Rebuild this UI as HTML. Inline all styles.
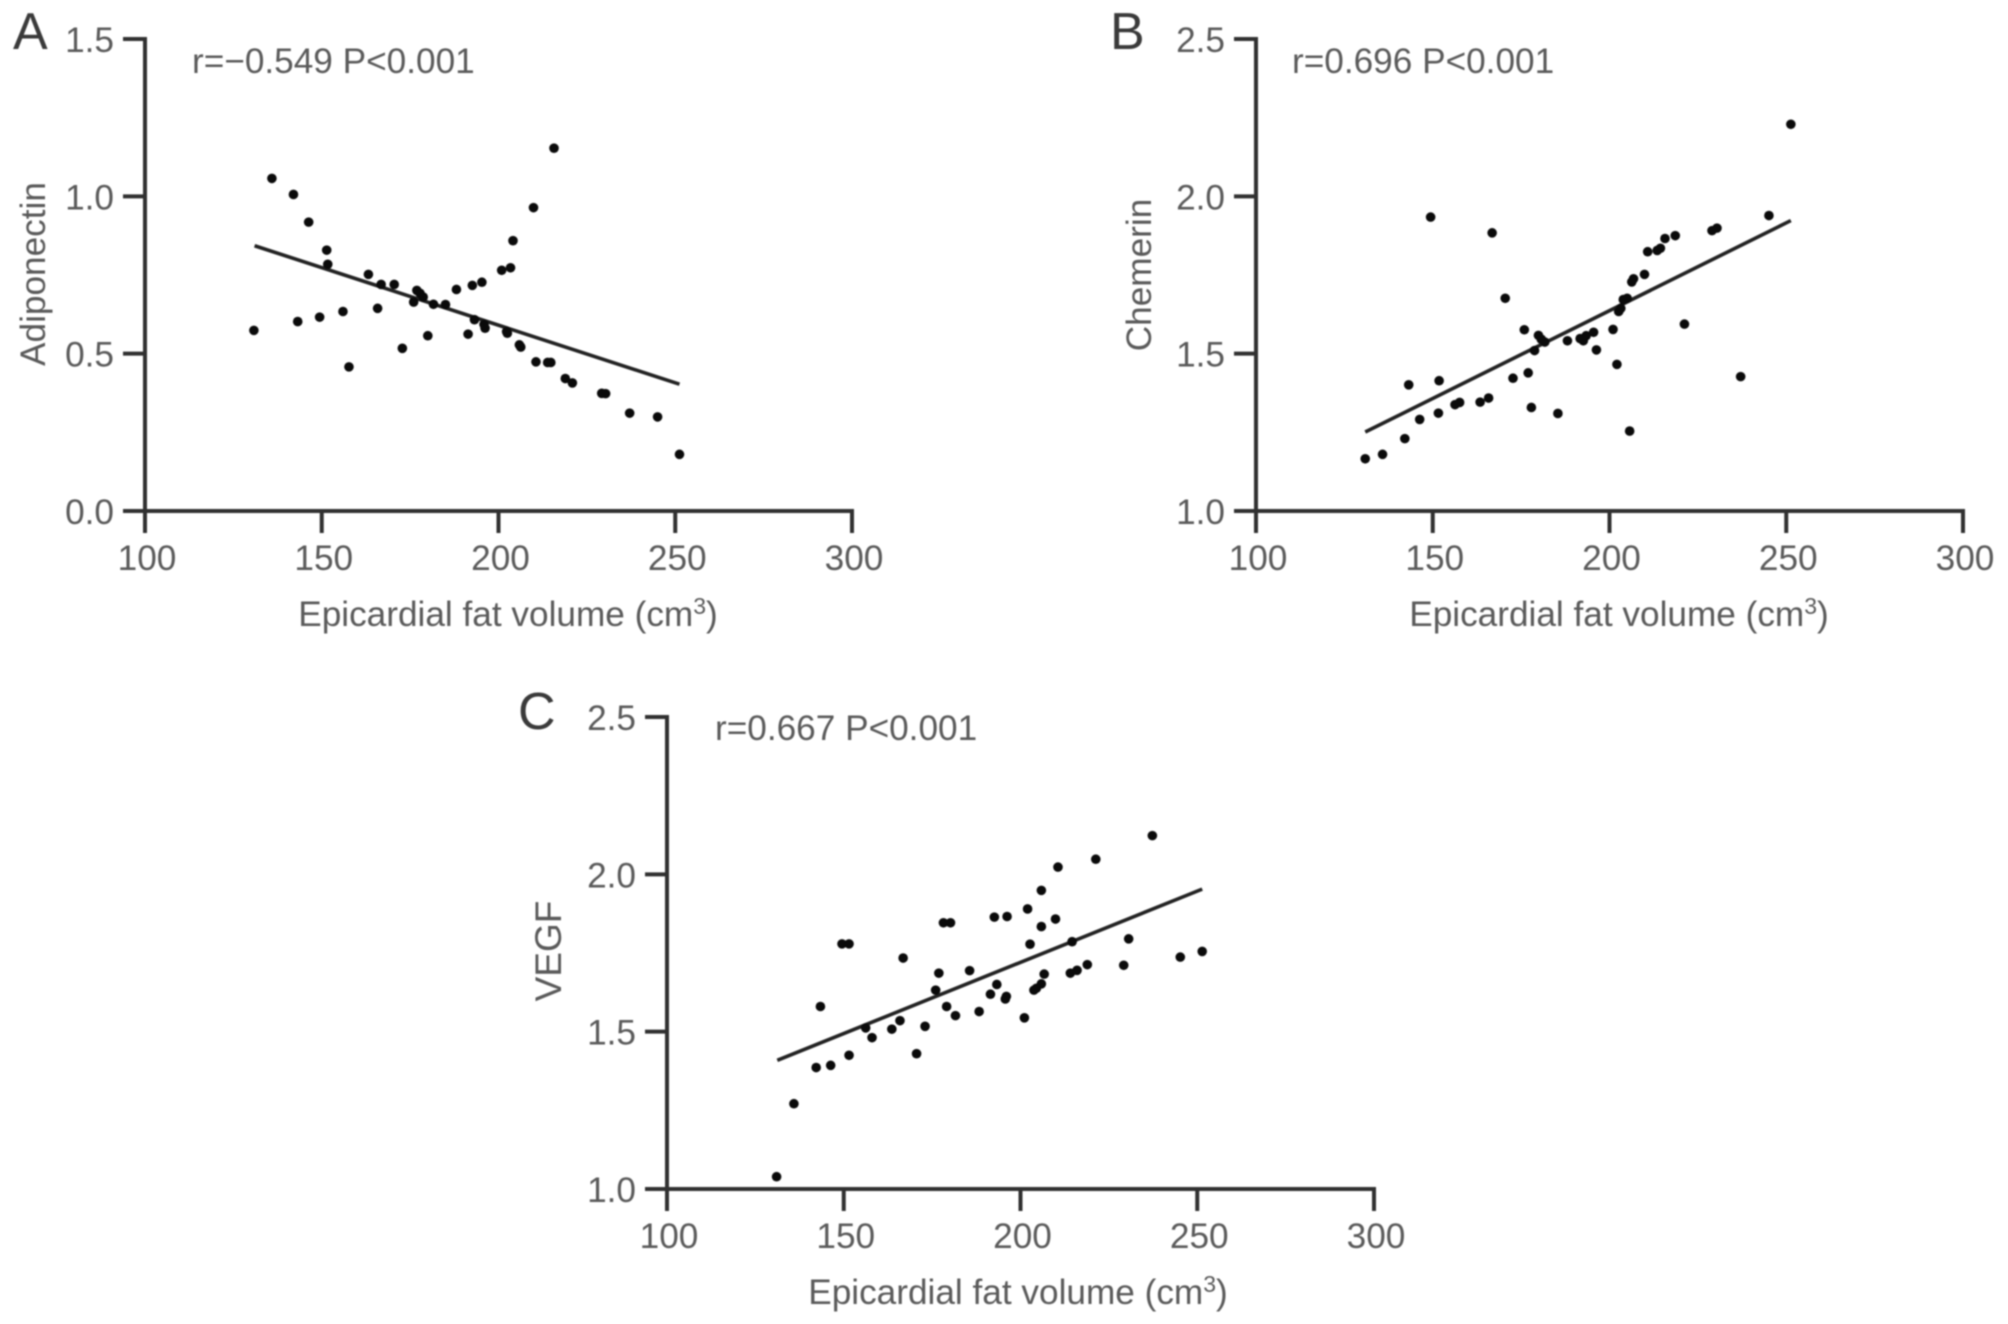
<!DOCTYPE html>
<html lang="en">
<head>
<meta charset="utf-8">
<title>Epicardial fat volume correlations</title>
<style>
html,body{margin:0;padding:0;background:#fff;}
#figure{display:block;width:2008px;height:1324px;filter:blur(0.8px);}
text{font-family:"Liberation Sans",sans-serif;fill:#5a5a5a;font-size:35.2px;}
.panel-letter{font-size:52px;fill:#3a3a3a;}
.axis-line{stroke:#303030;stroke-width:4;fill:none;stroke-linecap:square;}
.fit{stroke:#222;stroke-width:3.6;fill:none;}
.dot{fill:#0a0a0a;}
</style>
</head>
<body>
<svg id="figure" xmlns="http://www.w3.org/2000/svg" width="2008" height="1324" viewBox="0 0 2008 1324">
  <rect width="2008" height="1324" fill="#fff"/>
  <g id="panel-a">
    <text class="panel-letter" x="13" y="49">A</text>
    <text x="192" y="73">r=−0.549 P&lt;0.001</text>
    <text x="508" y="626" text-anchor="middle">Epicardial fat volume (cm<tspan font-size="23" dy="-12">3</tspan><tspan dy="12">)</tspan></text>
    <text transform="translate(45,274) rotate(-90)" text-anchor="middle">Adiponectin</text>
  </g>
  <g id="panel-b">
    <text class="panel-letter" x="1110" y="49">B</text>
    <text x="1292" y="73">r=0.696 P&lt;0.001</text>
    <text x="1619" y="626" text-anchor="middle">Epicardial fat volume (cm<tspan font-size="23" dy="-12">3</tspan><tspan dy="12">)</tspan></text>
    <text transform="translate(1151,275) rotate(-90)" text-anchor="middle">Chemerin</text>
  </g>
  <g id="panel-c">
    <text class="panel-letter" x="518" y="729">C</text>
    <text x="715" y="740">r=0.667 P&lt;0.001</text>
    <text x="1018" y="1304" text-anchor="middle">Epicardial fat volume (cm<tspan font-size="23" dy="-12">3</tspan><tspan dy="12">)</tspan></text>
    <text transform="translate(561,951) rotate(-90)" text-anchor="middle" style="font-size:37px">VEGF</text>
  </g>
</svg>
<script>
var xTicks = [100, 150, 200, 250, 300];
var yTicksA = [0.0, 0.5, 1.0, 1.5];
var yTicksB = [1.0, 1.5, 2.0, 2.5];
var yTicksC = [1.0, 1.5, 2.0, 2.5];

var xA = [130.8,135.9,142.0,143.2,146.3,149.4,151.4,151.7,156.0,157.7,163.2,165.8,166.8,170.5,172.8,176.0,176.9,177.8,178.7,180.0,181.6,185.0,188.1,191.4,192.6,193.2,195.3,195.9,196.2,200.9,202.3,202.5,203.4,204.1,205.9,206.3,209.9,210.6,213.9,214.8,215.7,218.9,220.9,229.2,230.3,237.1,245.0,251.2];
var yA = [0.574,1.057,1.006,0.602,0.918,0.616,0.829,0.784,0.634,0.458,0.752,0.644,0.720,0.720,0.517,0.664,0.701,0.692,0.680,0.557,0.657,0.656,0.704,0.562,0.717,0.608,0.727,0.593,0.581,0.765,0.570,0.565,0.773,0.859,0.528,0.521,0.964,0.474,0.472,0.472,1.153,0.421,0.407,0.374,0.373,0.311,0.299,0.180];
var fitXA = [131.0,251.2];
var fitYA = [0.843,0.403];

var xB = [130.9,135.8,142.1,143.2,146.3,149.4,151.6,151.8,156.3,157.6,163.4,165.8,166.8,170.5,172.7,175.9,177.0,177.9,178.8,179.9,180.7,181.7,185.4,188.1,191.7,192.6,193.4,195.5,196.3,201.0,202.1,202.6,203.2,203.9,205.0,205.7,206.3,206.8,209.9,210.8,213.5,214.4,215.7,218.6,221.2,229.0,230.4,237.1,245.1,251.3];
var yB = [1.166,1.180,1.230,1.401,1.291,1.934,1.311,1.414,1.338,1.345,1.346,1.359,1.884,1.676,1.422,1.576,1.439,1.329,1.510,1.558,1.546,1.537,1.310,1.541,1.548,1.541,1.557,1.568,1.512,1.577,1.466,1.634,1.644,1.672,1.676,1.254,1.728,1.738,1.752,1.824,1.828,1.835,1.866,1.875,1.594,1.891,1.899,1.427,1.939,2.229];
var fitXB = [130.9,251.3];
var fitYB = [1.251,1.923];

var xC = [131.0,135.9,142.2,143.4,146.3,149.5,151.5,151.5,156.2,158.0,163.6,165.9,166.8,170.6,173.0,176.0,176.9,178.2,179.1,180.2,181.6,185.6,188.3,191.5,192.6,193.3,195.7,196.0,196.2,201.1,202.0,202.7,203.8,204.5,205.9,205.9,205.9,206.7,209.9,210.6,214.1,214.6,216.0,218.9,221.3,229.2,230.6,237.3,245.2,251.4];
var yC = [1.039,1.271,1.386,1.580,1.393,1.779,1.779,1.425,1.512,1.481,1.508,1.535,1.734,1.430,1.517,1.632,1.686,1.846,1.580,1.846,1.551,1.694,1.564,1.619,1.864,1.650,1.604,1.612,1.866,1.544,1.890,1.778,1.632,1.638,1.652,1.834,1.949,1.683,1.858,2.023,1.686,1.786,1.695,1.713,2.048,1.711,1.795,2.123,1.737,1.755];
var fitXC = [131.2,251.4];
var fitYC = [1.409,1.953];

var SVGNS = 'http://www.w3.org/2000/svg';

function line(parent, x1, y1, x2, y2, cls) {
  var el = document.createElementNS(SVGNS, 'line');
  el.setAttribute('x1', x1);
  el.setAttribute('y1', y1);
  el.setAttribute('x2', x2);
  el.setAttribute('y2', y2);
  el.setAttribute('class', cls);
  parent.appendChild(el);
  return el;
}

function label(parent, x, y, anchor, str) {
  var el = document.createElementNS(SVGNS, 'text');
  el.setAttribute('x', x);
  el.setAttribute('y', y);
  el.setAttribute('text-anchor', anchor);
  el.textContent = str;
  parent.appendChild(el);
  return el;
}

function drawPanel(id, left, right, top, bottom, yTicks, xs, ys, fitX, fitY) {
  var g = document.getElementById(id);
  var xMin = xTicks[0], xMax = xTicks[xTicks.length - 1];
  var yMin = yTicks[0], yMax = yTicks[yTicks.length - 1];
  function sx(v) { return left + (v - xMin) / (xMax - xMin) * (right - left); }
  function sy(v) { return bottom - (v - yMin) / (yMax - yMin) * (bottom - top); }

  var yAxis = line(g, sx(xMin), sy(yMin), sx(xMin), sy(yMax), 'axis-line');
  
  
  var xAxis = line(g, sx(xMin), sy(yMin), sx(xMax), sy(yMin), 'axis-line');
  
  

  xTicks.forEach(function (t) {
    var tick = line(g, sx(t), bottom, sx(t), bottom + 20, 'axis-line');
    
    
    var lab = label(g, sx(t) + 2, bottom + 59, 'middle', String(t));
    
    
  });

  yTicks.forEach(function (t) {
    var tick = line(g, left - 20, sy(t), left, sy(t), 'axis-line');
    
    
    var lab = label(g, left - 31, sy(t) + 13, 'end', t.toFixed(1));
    
    
  });

  var fit = line(g, sx(fitX[0]), sy(fitY[0]), sx(fitX[1]), sy(fitY[1]), 'fit');
  
  

  xs.forEach(function (v, i) {
    var c = document.createElementNS(SVGNS, 'circle');
    c.setAttribute('cx', sx(v));
    c.setAttribute('cy', sy(ys[i]));
    c.setAttribute('r', 4.8);
    c.setAttribute('class', 'dot');
    
    
    g.appendChild(c);
  });
}

drawPanel('panel-a', 145, 852, 39, 511, yTicksA, xA, yA, fitXA, fitYA);
drawPanel('panel-b', 1256, 1963, 39, 511, yTicksB, xB, yB, fitXB, fitYB);
drawPanel('panel-c', 667, 1374, 717, 1189, yTicksC, xC, yC, fitXC, fitYC);
</script>
</body>
</html>
